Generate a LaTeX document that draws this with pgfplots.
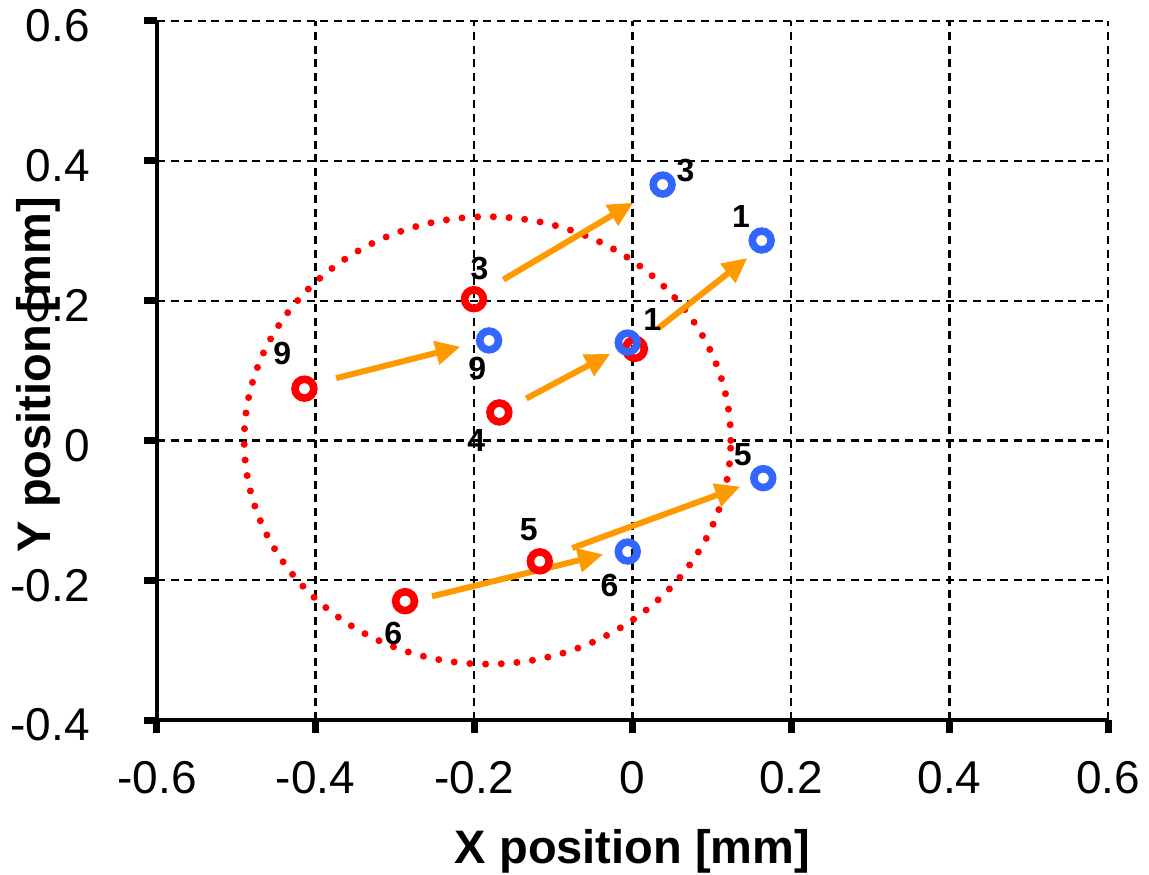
\documentclass[border=0pt]{standalone}
\usepackage{fontspec}
\setmainfont{Liberation Sans}
\usepackage{pgfplots}
\pgfplotsset{compat=1.18}
\usetikzlibrary{arrows.meta}
\definecolor{myred}{RGB}{255,0,0}
\definecolor{myblue}{RGB}{51,102,255}
\definecolor{myorange}{RGB}{255,153,0}

\pgfplotstableread{
x y
-0.200 0.202
0.003 0.131
-0.414 0.074
-0.168 0.040
-0.117 -0.173
-0.287 -0.230
}\redpts

\pgfplotstableread{
x y
0.038 0.366
0.163 0.286
-0.181 0.143
-0.006 0.140
0.165 -0.054
-0.006 -0.159
}\bluepts

\pgfplotstableread{
x y u v
-0.163 0.230 0.164 0.110
0.032 0.160 0.113 0.101
-0.374 0.089 0.157 0.045
-0.134 0.060 0.106 0.064
-0.076 -0.154 0.212 0.088
-0.253 -0.223 0.216 0.060
}\arrows

\begin{document}
\begin{tikzpicture}
\useasboundingbox (-78.5pt,-77pt) rectangle (496pt,360pt);
\begin{axis}[
  at={(0pt,0pt)}, anchor=south west,
  scale only axis, width=475.5pt, height=349.5pt,
  xmin=-0.6, xmax=0.6, ymin=-0.4, ymax=0.6,
  xtick={-0.6,-0.4,-0.2,0,0.2,0.4,0.6},
  xticklabels={-0.6,-0.4,-0.2,0,0.2,0.4,0.6},
  ytick={-0.4,-0.2,0,0.2,0.4,0.6},
  yticklabels={-0.4,-0.2,0,0.2,0.4,0.6},
  axis x line*=bottom, axis y line*=left,
  axis line style={-, line width=2pt, black},
  tick align=outside,
  major tick length=6.5pt,
  tick style={line width=3.5pt, black},
  grid=major,
  major grid style={black, line width=1.1pt, dash pattern=on 4pt off 2.8pt},
  ticklabel style={font=\fontsize{23}{26}\selectfont},
  xticklabel style={anchor=base, inner sep=0pt, yshift=-30pt},
  yticklabel style={anchor=east, inner sep=0pt, xshift=-27pt, yshift=-2.5pt},
  xlabel={X position [mm]},
  ylabel={Y position [mm]},
  xlabel style={font=\bfseries\fontsize{23.5}{26}\selectfont, at={(axis description cs:0.5,-0.2046)}, anchor=base, inner sep=0pt},
  ylabel style={font=\bfseries\fontsize{23.5}{26}\selectfont, at={(axis description cs:-0.1115,0.494)}, anchor=base, rotate=0, inner sep=0pt},
  clip=false,
]
\draw[myred, line width=3.5pt, line cap=round, dash pattern=on 0pt off 7.85pt] (axis cs:-0.183,0) ellipse [x radius=0.307, y radius=0.32];
\addplot[myorange, line width=3pt, -{Triangle[length=12.5pt,width=11.5pt]}, quiver={u=\thisrow{u}, v=\thisrow{v}}] table {\arrows};
\addplot[only marks, mark=o, mark size=4.7pt, myred, line width=3.8pt] table {\redpts};
\addplot[only marks, mark=o, mark size=4.7pt, myblue, line width=3.8pt] table {\bluepts};
\begin{scope}[every node/.style={font=\bfseries\fontsize{16}{18}\selectfont, inner sep=0pt}]
\node at (axis cs:-0.193,0.246) {3};
\node at (axis cs:-0.196,0.103) {9};
\node at (axis cs:0.025,0.173) {1};
\node at (axis cs:-0.197,0.000) {4};
\node at (axis cs:0.067,0.386) {3};
\node at (axis cs:0.137,0.320) {1};
\node at (axis cs:-0.131,-0.127) {5};
\node at (axis cs:-0.302,-0.276) {6};
\node at (axis cs:-0.029,-0.207) {6};
\node at (axis cs:0.139,-0.020) {5};
\node at (axis cs:-0.442,0.124) {9};
\end{scope}
\end{axis}
\end{tikzpicture}
\end{document}
